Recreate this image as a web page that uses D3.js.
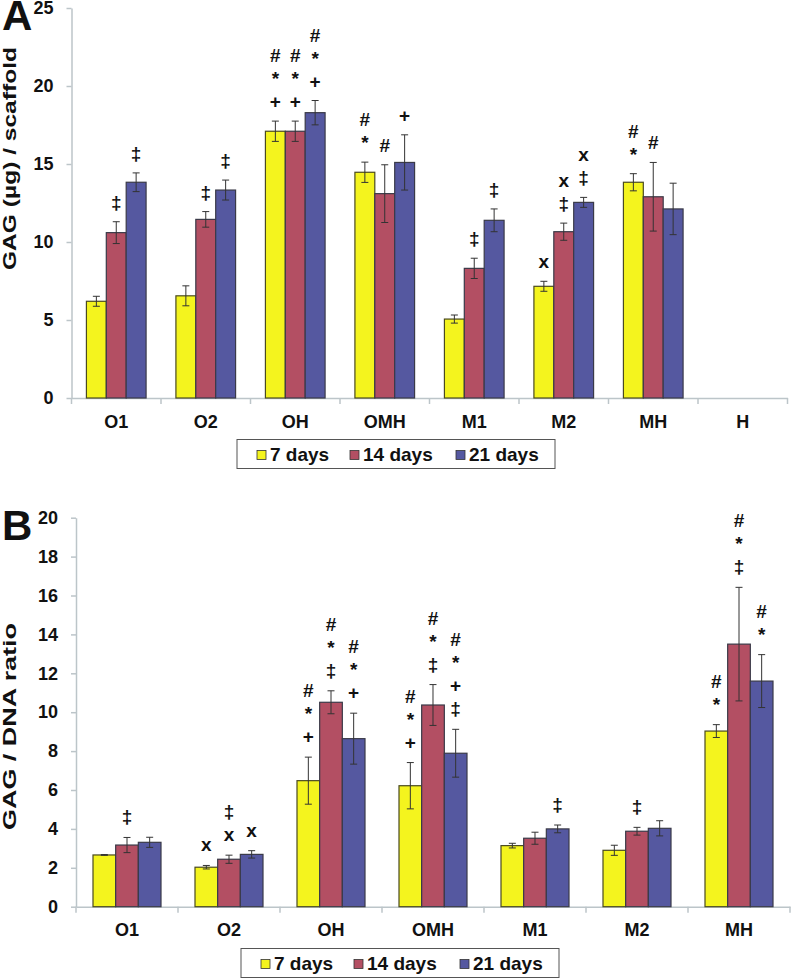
<!DOCTYPE html>
<html>
<head>
<meta charset="utf-8">
<script src="https://cdn.jsdelivr.net/npm/d3@7/dist/d3.min.js"></script>
<style>
  body { margin: 0; background: #fff; }
  svg text { font-family: "Liberation Sans", Arial, sans-serif; font-weight: bold; fill: #111; }
</style>
</head>
<body>
<svg id="chart" width="792" height="979"></svg>
<script>
// Series shared by both panels
const seriesNames = ['7 days', '14 days', '21 days'];
const seriesColors = ['#f4f41e', '#b34f63', '#5558a0'];

// Panel A: GAG (µg) / scaffold
const categoriesA = ['O1', 'O2', 'OH', 'OMH', 'M1', 'M2', 'MH', 'H'];
const gagA7  = [6.2, 6.55, 17.1, 14.47, 5.06, 7.16, 13.83, null];
const gagA14 = [10.6, 11.45, 17.1, 13.1, 8.31, 10.66, 12.9, null];
const gagA21 = [13.83, 13.33, 18.29, 15.1, 11.39, 12.54, 12.12, null];
const errA7  = [0.32, 0.64, 0.65, 0.65, 0.26, 0.32, 0.55, null];
const errA14 = [0.7, 0.5, 0.65, 1.85, 0.65, 0.55, 2.2, null];
const errA21 = [0.6, 0.64, 0.78, 1.77, 0.73, 0.32, 1.65, null];
// significance marks, listed bottom to top
const marksA7  = [[], [], ['+', '*', '#'], ['*', '#'], [], ['x'], ['*', '#'], []];
const marksA14 = [['‡'], ['‡'], ['+', '*', '#'], ['#'], ['‡'], ['‡', 'x'], ['#'], []];
const marksA21 = [['‡'], ['‡'], ['+', '*', '#'], ['+'], ['‡'], ['‡', 'x'], [], []];
const ticksA = [0, 5, 10, 15, 20, 25];

// Panel B: GAG / DNA ratio
const categoriesB = ['O1', 'O2', 'OH', 'OMH', 'M1', 'M2', 'MH'];
const ratioB7  = [2.66, 2.03, 6.48, 6.22, 3.14, 2.9, 9.03];
const ratioB14 = [3.17, 2.44, 10.51, 10.37, 3.52, 3.88, 13.5];
const ratioB21 = [3.31, 2.69, 8.64, 7.89, 4.0, 4.03, 11.6];
const errB7  = [0.02, 0.09, 1.21, 1.19, 0.12, 0.26, 0.33];
const errB14 = [0.39, 0.21, 0.59, 1.05, 0.31, 0.2, 2.92];
const errB21 = [0.26, 0.19, 1.31, 1.23, 0.2, 0.39, 1.36];
const marksB7  = [[], ['x'], ['+', '*', '#'], ['+', '*', '#'], [], [], ['*', '#']];
const marksB14 = [['‡'], ['x', '‡'], ['‡', '*', '#'], ['‡', '*', '#'], [], ['‡'], ['‡', '*', '#']];
const marksB21 = [[], ['x'], ['+', '*', '#'], ['‡', '+', '*', '#'], ['‡'], [], ['*', '#']];
const ticksB = [0, 2, 4, 6, 8, 10, 12, 14, 16, 18, 20];

const svg = d3.select('#chart');
const axisColor = '#bcc5c9';

function drawPanel(opt) {
  const g = svg.append('g').attr('transform', `translate(${opt.left},${opt.top})`);
  const width = opt.width, height = opt.height;

  const x0 = d3.scaleBand().domain(opt.categories).range([0, width]).padding(0);
  const x1 = d3.scaleBand().domain(seriesNames).range([0, x0.bandwidth()])
    .paddingInner(0).paddingOuter(0.75);
  const y = d3.scaleLinear().domain([0, opt.max]).range([height, 0]);

  // y axis
  const yAxis = g.append('g')
    .call(d3.axisLeft(y).tickValues(opt.ticks).tickSize(5).tickSizeOuter(0).tickPadding(13));
  yAxis.select('.domain').attr('stroke', axisColor).attr('stroke-width', 1.5);
  yAxis.selectAll('.tick line').attr('stroke', axisColor).attr('stroke-width', 1.5);
  yAxis.selectAll('text').style('font-size', '18px').attr('fill', '#111');

  // x axis (labels centred, ticks at band edges)
  const xAxis = g.append('g')
    .attr('transform', `translate(0,${height})`)
    .call(d3.axisBottom(x0).tickSize(0).tickSizeOuter(0).tickPadding(17));
  xAxis.select('.domain').attr('stroke', axisColor).attr('stroke-width', 1.5);
  xAxis.selectAll('text').style('font-size', '18px').attr('fill', '#111');
  const edges = opt.categories.map(c => x0(c)).concat([width]);
  g.append('g').selectAll('line')
    .data(edges)
    .enter().append('line')
    .attr('x1', d => d).attr('x2', d => d)
    .attr('y1', height).attr('y2', height + 6)
    .attr('stroke', axisColor).attr('stroke-width', 1.5);

  // flatten bars
  const bars = [];
  opt.categories.forEach((c, i) => {
    seriesNames.forEach((s, k) => {
      const v = opt.values[k][i];
      if (v == null) return;
      bars.push({ cat: c, series: s, k: k, value: v, err: opt.errors[k][i], marks: opt.marks[k][i] });
    });
  });

  const groups = g.selectAll('.bar-group')
    .data(bars)
    .enter().append('g')
    .attr('class', 'bar-group')
    .attr('transform', d => `translate(${x0(d.cat) + x1(d.series)},0)`);

  groups.append('rect')
    .attr('x', 0)
    .attr('width', x1.bandwidth())
    .attr('y', d => y(d.value))
    .attr('height', d => height - y(d.value))
    .attr('fill', d => seriesColors[d.k])
    .attr('stroke', d => d.k === 0 ? '#4a4a20' : '#3a3a48')
    .attr('stroke-width', 1.2);

  // error bars
  const cx = x1.bandwidth() / 2;
  groups.append('line')
    .attr('x1', cx).attr('x2', cx)
    .attr('y1', d => y(d.value + d.err)).attr('y2', d => y(d.value - d.err))
    .attr('stroke', '#333').attr('stroke-width', 1);
  groups.append('line')
    .attr('x1', cx - 3.5).attr('x2', cx + 3.5)
    .attr('y1', d => y(d.value + d.err)).attr('y2', d => y(d.value + d.err))
    .attr('stroke', '#333').attr('stroke-width', 1);
  groups.append('line')
    .attr('x1', cx - 3.5).attr('x2', cx + 3.5)
    .attr('y1', d => y(d.value - d.err)).attr('y2', d => y(d.value - d.err))
    .attr('stroke', '#333').attr('stroke-width', 1);

  // significance marks stacked above the error bar
  groups.selectAll('.mark')
    .data(d => d.marks.map((m, j) => ({ m: m, j: j, top: y(d.value + d.err) })))
    .enter().append('text')
    .attr('class', 'mark')
    .attr('x', cx)
    .attr('y', d => d.top - opt.markGap - d.j * 23)
    .attr('text-anchor', 'middle')
    .style('font-size', '19px')
    .text(d => d.m);

  // y axis label
  svg.append('text')
    .attr('transform', `translate(16,${opt.labelY}) rotate(-90)`)
    .attr('text-anchor', 'middle')
    .attr('textLength', opt.labelLen)
    .attr('lengthAdjust', 'spacingAndGlyphs')
    .style('font-size', '19px')
    .text(opt.yLabel);

  // panel letter
  svg.append('text')
    .attr('x', 2)
    .attr('y', opt.letterY)
    .style('font-size', '42px')
    .text(opt.letter);

  // legend
  const lg = svg.append('g').attr('transform', `translate(${opt.legendX},${opt.legendY})`);
  lg.append('rect')
    .attr('width', 318).attr('height', 29)
    .attr('fill', '#fff').attr('stroke', '#555').attr('stroke-width', 1);
  const itemX = [20, 113, 219];
  const items = lg.selectAll('.legend-item')
    .data(seriesNames)
    .enter().append('g')
    .attr('class', 'legend-item')
    .attr('transform', (d, i) => `translate(${itemX[i]},0)`);
  items.append('rect')
    .attr('y', 11).attr('width', 9).attr('height', 9)
    .attr('fill', (d, i) => seriesColors[i])
    .attr('stroke', '#333').attr('stroke-width', 0.8);
  items.append('text')
    .attr('x', 13).attr('y', 21)
    .style('font-size', '19px')
    .text(d => d);
}

drawPanel({
  left: 71.5, top: 8, width: 716, height: 390, max: 25,
  categories: categoriesA,
  values: [gagA7, gagA14, gagA21],
  errors: [errA7, errA14, errA21],
  marks: [marksA7, marksA14, marksA21],
  ticks: ticksA, markGap: 13,
  yLabel: 'GAG (µg) / scaffold', labelY: 158.5, labelLen: 223,
  letter: 'A', letterY: 30,
  legendX: 237, legendY: 439.5
});

drawPanel({
  left: 76, top: 517.7, width: 714, height: 389, max: 20,
  categories: categoriesB,
  values: [ratioB7, ratioB14, ratioB21],
  errors: [errB7, errB14, errB21],
  marks: [marksB7, marksB14, marksB21],
  ticks: ticksB, markGap: 14,
  yLabel: 'GAG / DNA ratio', labelY: 726.5, labelLen: 207,
  letter: 'B', letterY: 540,
  legendX: 241, legendY: 948.5
});
</script>
</body>
</html>
